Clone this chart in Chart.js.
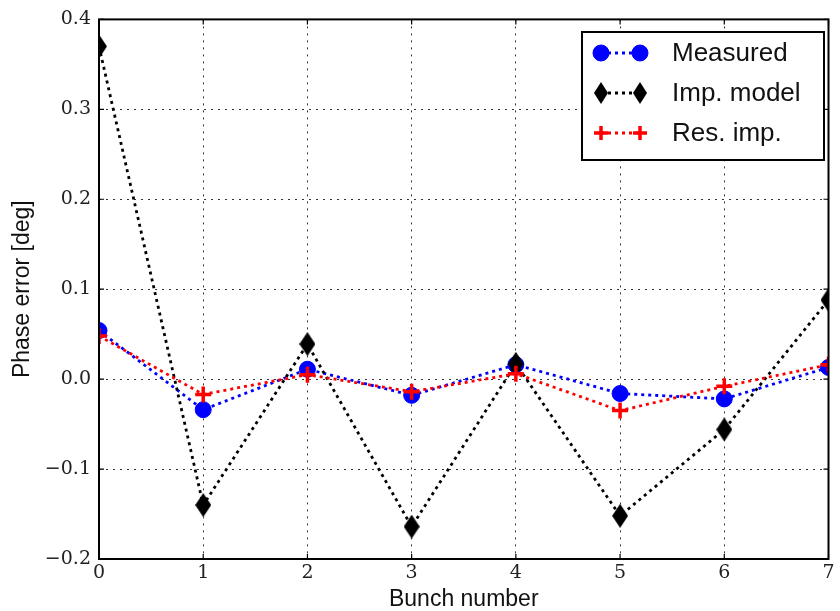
<!DOCTYPE html>
<html>
<head>
<meta charset="utf-8">
<script src="https://cdn.jsdelivr.net/npm/chart.js@4.4.1/dist/chart.umd.min.js"></script>
<style>
   html, body { margin: 0; padding: 0; background: #fff; }
   #wrap { width: 840px; height: 611px; }
</style>
</head>
<body>
<div id="wrap"><canvas id="phase-chart" width="840" height="611"></canvas></div>
<script>
const bunches = [0, 1, 2, 3, 4, 5, 6, 7];
const measured = [0.054, -0.034, 0.011, -0.018, 0.016, -0.016, -0.022, 0.013];
const impModel = [0.370, -0.140, 0.039, -0.164, 0.017, -0.152, -0.056, 0.088];
const resImp = [0.048, -0.017, 0.005, -0.014, 0.006, -0.035, -0.008, 0.016];
const yTicks = [-0.2, -0.1, 0.0, 0.1, 0.2, 0.3, 0.4];

const PLOT = { left: 99, right: 834, top: 17, bottom: 559 };
const SERIF = '"DejaVu Serif", "Liberation Serif", serif';
const SANS = '"Liberation Sans", Arial, sans-serif';
const LINE_DASH = [3, 4];

// thin diamond like matplotlib 'd'
function makeDiamond(w, h) {
   const c = document.createElement('canvas');
   c.width = w; c.height = h;
   const g = c.getContext('2d');
   g.fillStyle = '#000';
   g.beginPath();
   g.moveTo(w / 2, 0);
   g.lineTo(w, h / 2);
   g.lineTo(w / 2, h);
   g.lineTo(0, h / 2);
   g.closePath();
   g.fill();
   return c;
}
const diamond = makeDiamond(16, 24);
const diamondSmall = makeDiamond(14, 22);

const pts = (ys) => bunches.map((x, i) => ({ x, y: ys[i] }));
const fmt = (v) => {
   const s = Math.abs(v).toFixed(1);
   return v < -1e-9 ? '\u2212' + s : s;
};

const frame = {
   id: 'frame',
   afterDatasetsDraw(chart) {
      const { ctx, chartArea: a, scales } = chart;
      ctx.save();
      ctx.strokeStyle = '#000';
      ctx.lineWidth = 1.2;
      // inward ticks on all sides
      bunches.forEach(v => {
         const px = scales.x.getPixelForValue(v);
         ctx.beginPath();
         ctx.moveTo(px, a.bottom); ctx.lineTo(px, a.bottom - 5);
         ctx.moveTo(px, a.top); ctx.lineTo(px, a.top + 5);
         ctx.stroke();
      });
      yTicks.forEach(v => {
         const py = scales.y.getPixelForValue(v);
         ctx.beginPath();
         ctx.moveTo(a.left, py); ctx.lineTo(a.left + 5, py);
         ctx.moveTo(a.right, py); ctx.lineTo(a.right - 5, py);
         ctx.stroke();
      });
      ctx.lineWidth = 2;
      ctx.strokeRect(a.left, a.top, a.right - a.left, a.bottom - a.top);

      // legend box
      const lx = 582, ly = 32, lw = 242, lh = 128;
      ctx.fillStyle = '#fff';
      ctx.fillRect(lx, ly, lw, lh);
      ctx.lineWidth = 2;
      ctx.strokeRect(lx, ly, lw, lh);
      const rows = [53, 93, 133];
      chart.data.datasets.forEach((ds, i) => {
         const y = rows[i];
         ctx.save();
         ctx.strokeStyle = ds.borderColor;
         ctx.lineWidth = 2.8;
         ctx.setLineDash(LINE_DASH);
         ctx.beginPath();
         ctx.moveTo(601, y); ctx.lineTo(640, y);
         ctx.stroke();
         ctx.restore();
         [601, 640].forEach(x => {
            if (ds.legendImage) {
               const im = ds.legendImage;
               ctx.drawImage(im, x - im.width / 2, y - im.height / 2);
            } else {
               ctx.fillStyle = ds.pointBackgroundColor;
               ctx.strokeStyle = ds.pointBorderColor;
               ctx.lineWidth = ds.pointBorderWidth;
               Chart.helpers.drawPoint(ctx, {
                  pointStyle: ds.pointStyle,
                  radius: ds.legendRadius,
                  borderWidth: ds.pointBorderWidth
               }, x, y);
            }
         });
         ctx.fillStyle = '#111';
         ctx.font = '26px ' + SANS;
         ctx.textBaseline = 'middle';
         ctx.textAlign = 'left';
         ctx.fillText(ds.label, 672, y + 1);
      });
      ctx.restore();
   }
};

new Chart(document.getElementById('phase-chart'), {
   type: 'line',
   data: {
      datasets: [
         {
            label: 'Measured',
            data: pts(measured),
            borderColor: '#0000ff',
            borderWidth: 2.8,
            borderDash: LINE_DASH,
            pointStyle: 'circle',
            pointRadius: 8,
            pointBackgroundColor: '#0000ff',
            pointBorderColor: '#0000ff',
            pointBorderWidth: 1,
            legendRadius: 8,
            order: 2
         },
         {
            label: 'Imp. model',
            data: pts(impModel),
            borderColor: '#000000',
            borderWidth: 2.8,
            borderDash: LINE_DASH,
            pointStyle: diamond,
            pointRadius: 10,
            pointBackgroundColor: '#000',
            pointBorderColor: '#000',
            pointBorderWidth: 0,
            legendImage: diamondSmall,
            order: 1
         },
         {
            label: 'Res. imp.',
            data: pts(resImp),
            borderColor: '#ff0000',
            borderWidth: 2.8,
            borderDash: LINE_DASH,
            pointStyle: 'cross',
            pointRadius: 8,
            pointBackgroundColor: '#ff0000',
            pointBorderColor: '#ff0000',
            pointBorderWidth: 3.5,
            legendRadius: 7,
            order: 0
         }
      ]
   },
   options: {
      responsive: false,
      animation: false,
      clip: 0,
      layout: {
         padding: { top: PLOT.top, right: 840 - PLOT.right, left: 0, bottom: 0 }
      },
      plugins: {
         legend: { display: false },
         tooltip: { enabled: false }
      },
      scales: {
         x: {
            type: 'linear',
            min: 0,
            max: 7,
            afterBuildTicks: (s) => { s.ticks = bunches.map(v => ({ value: v })); },
            afterFit: (s) => { s.height = 611 - PLOT.bottom; },
            border: { display: false, dash: [2, 5] },
            grid: {
               color: '#333',
               lineWidth: 1,
               drawTicks: false
            },
            ticks: {
               padding: 3,
               color: '#222',
               font: { family: SERIF, size: 19 },
               callback: (v) => String(v)
            },
            title: {
               display: true,
               text: 'Bunch number',
               color: '#111',
               font: { family: SANS, size: 23, lineHeight: 1 },
               padding: { top: 0, bottom: 0 }
            }
         },
         y: {
            type: 'linear',
            min: -0.2,
            max: 0.4,
            afterBuildTicks: (s) => { s.ticks = yTicks.map(v => ({ value: v })); },
            afterFit: (s) => { s.width = PLOT.left; },
            border: { display: false, dash: [2, 5] },
            grid: {
               color: '#333',
               lineWidth: 1,
               drawTicks: false
            },
            ticks: {
               padding: 8,
               color: '#222',
               font: { family: SERIF, size: 19 },
               callback: (v) => fmt(v)
            },
            title: {
               display: true,
               text: 'Phase error [deg]',
               color: '#111',
               font: { family: SANS, size: 23, lineHeight: 1 },
               padding: { top: 11, bottom: 0 }
            }
         }
      }
   },
   plugins: [frame]
});
</script>
</body>
</html>
